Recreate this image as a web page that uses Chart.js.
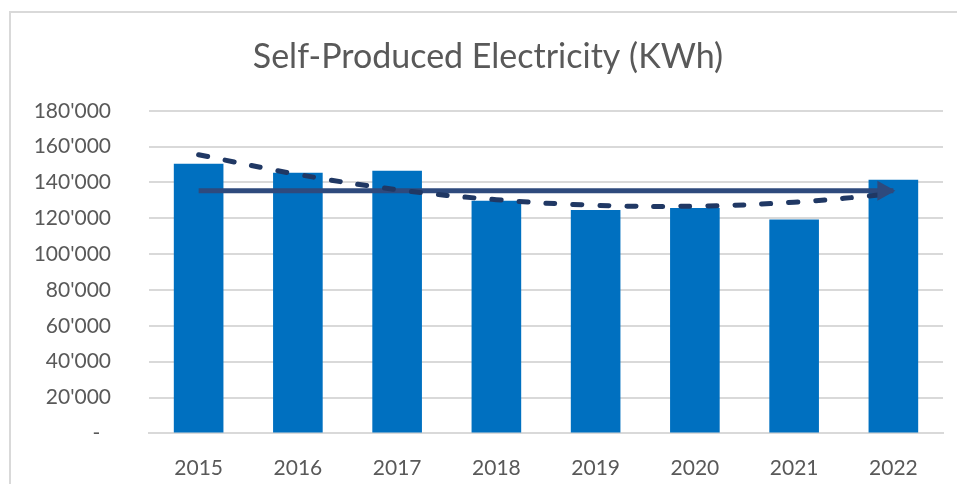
<!DOCTYPE html>
<html>
<head>
<meta charset="utf-8">
<script src="https://cdn.jsdelivr.net/npm/chart.js@4"></script>
<style>
  html, body { margin: 0; padding: 0; background: #fff; }
  #frame {
    position: absolute; left: 9px; top: 11px;
    width: 946px; height: 471px;
    border-left: 2px solid #d9d9d9;
    border-top: 2px solid #d9d9d9;
  }
  #mycanvas { display: block; }
</style>
</head>
<body>
<div id="frame"><canvas id="mycanvas" width="946" height="471"></canvas></div>
<script>
var years = ['2015', '2016', '2017', '2018', '2019', '2020', '2021', '2022'];
var produced = [150400, 145400, 146500, 129800, 124600, 125700, 119300, 141500];
// horizontal average line and polynomial trend
var average = [135400, 135400, 135400, 135400, 135400, 135400, 135400, 135400];
var trend = [155500, 144500, 136000, 130400, 127300, 126800, 129000, 133700];

var FONT = 'Lato, "Open Sans", sans-serif';
var GREY = '#595959';

// arrow head at the end of the average line
var arrowHead = {
	id: 'arrowHead',
	afterDatasetsDraw: function(chart){
		var meta = chart.getDatasetMeta(1);
		var pts = meta.data;
		var p = pts[pts.length - 1];
		var ctx = chart.ctx;
		ctx.save();
		ctx.fillStyle = '#2E4A7D';
		ctx.beginPath();
		ctx.moveTo(p.x + 2, p.y);
		ctx.lineTo(p.x - 16, p.y - 10);
		ctx.lineTo(p.x - 16, p.y + 10);
		ctx.closePath();
		ctx.fill();
		ctx.restore();
	}
};

function fmt(v){
	if (v === 0) return '-  ';
	return String(v).replace(/\B(?=(\d{3})+(?!\d))/g, "'");
}

var ctx = document.getElementById('mycanvas');
var chart = new Chart(ctx, {
	data: {
		labels: years,
		datasets: [
			{
				type: 'bar',
				label: 'Self-produced',
				data: produced,
				backgroundColor: '#0070C0',
				borderWidth: 0,
				barPercentage: 0.5,
				categoryPercentage: 1.0,
				order: 3
			},
			{
				type: 'line',
				label: 'Average',
				data: average,
				borderColor: '#2E4A7D',
				borderWidth: 5,
				pointRadius: 0,
				fill: false,
				order: 2
			},
			{
				type: 'line',
				label: 'Trend',
				data: trend,
				borderColor: '#203864',
				borderWidth: 5,
				borderDash: [9, 18],
				borderCapStyle: 'round',
				tension: 0.4,
				pointRadius: 0,
				fill: false,
				order: 1
			}
		]
	},
	options: {
		responsive: false,
		animation: false,
		events: [],
		layout: { padding: { left: 22, right: 14, top: 0, bottom: 0 } },
		plugins: {
			legend: { display: false },
			tooltip: { enabled: false },
			title: {
				display: true,
				text: 'Self-Produced Electricity (KWh)',
				color: GREY,
				font: { family: FONT, size: 34, weight: 'normal' },
				padding: { top: 24, bottom: 33 }
			}
		},
		scales: {
			x: {
				grid: { display: false },
				border: { display: true, color: '#d9d9d9', width: 2 },
				ticks: { color: GREY, font: { family: FONT, size: 21 }, padding: 14, maxRotation: 0 },
				afterFit: function(s){ s.height = 50; }
			},
			y: {
				min: 0,
				max: 180000,
				border: { display: false },
				grid: { color: '#d9d9d9', lineWidth: 2, drawTicks: false },
				ticks: { stepSize: 20000, color: GREY, font: { family: FONT, size: 21 }, padding: 38, callback: fmt },
				afterFit: function(s){ s.width = 116; }
			}
		}
	},
	plugins: [arrowHead]
});
</script>
</body>
</html>
